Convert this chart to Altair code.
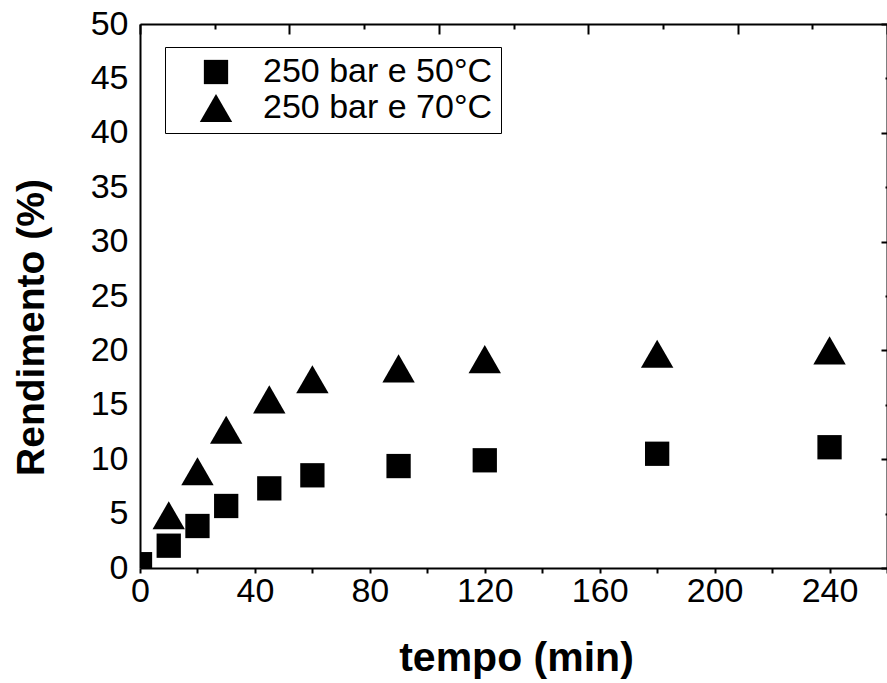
import altair as alt
import pandas as pd

series_names = ["250 bar e 50°C", "250 bar e 70°C"]
t_50 = [0, 10, 20, 30, 45, 60, 90, 120, 180, 240]
y_50 = [0.35, 2.05, 3.86, 5.7, 7.32, 8.52, 9.37, 9.9, 10.5, 11.1]
t_70 = [10, 20, 30, 45, 60, 90, 120, 180, 240]
y_70 = [4.84, 8.9, 12.7, 15.5, 17.35, 18.35, 19.2, 19.7, 20.0]
x_ticks = list(range(0, 261, 20))
y_ticks = list(range(0, 51, 5))
top_ticks = list(range(0, 11))

df = pd.DataFrame({
    "tempo": t_50 + t_70,
    "rend": y_50 + y_70,
    "serie": [series_names[0]] * len(t_50) + [series_names[1]] * len(t_70),
})
dummy = pd.DataFrame({"u": [0]})

FONT = "Liberation Sans"
W, H = 747, 544

legend = alt.Legend(
    title=None, orient="none", legendX=25, legendY=23,
    strokeColor="black", fillColor="white", padding=8,
    labelFont=FONT, labelFontSize=34, labelColor="black", labelLimit=0,
    symbolFillColor="black", symbolStrokeWidth=0, symbolOffset=26,
    labelOffset=30, rowPadding=2,
)

points = alt.Chart(df).mark_point(
    filled=True, color="black", opacity=1, strokeWidth=0, clip=True
).encode(
    x=alt.X("tempo:Q", scale=alt.Scale(domain=[0, 260], nice=False, zero=False),
            axis=alt.Axis(values=x_ticks,
                          labelExpr="datum.value % 40 === 0 ? datum.label : ''",
                          tickSize=5, tickWidth=2, tickColor="black",
                          domainColor="black", domainWidth=2,
                          labelFont=FONT, labelFontSize=34, labelColor="black",
                          labelPadding=1, labelFlush=False, grid=False,
                          title="tempo (min)", titleFont=FONT, titleFontSize=41,
                          titleFontWeight="bold", titleColor="black",
                          titleX=376, titleY=102, titleBaseline="alphabetic",
                          titleAlign="center")),
    y=alt.Y("rend:Q", scale=alt.Scale(domain=[0, 50], nice=False),
            axis=alt.Axis(values=y_ticks, ticks=False,
                          domainColor="black", domainWidth=2,
                          labelFont=FONT, labelFontSize=34, labelColor="black",
                          labelPadding=12, labelFlush=False, grid=False,
                          title="Rendimento (%)", titleFont=FONT, titleFontSize=39,
                          titleFontWeight="bold", titleColor="black",
                          titleX=-97, titleY=303, titleAngle=270,
                          titleBaseline="alphabetic", titleAlign="center")),
    shape=alt.Shape("serie:N", scale=alt.Scale(domain=series_names, range=["square", "triangle-up"]),
                    legend=legend),
    size=alt.Size("serie:N", scale=alt.Scale(domain=series_names, range=[590, 1050]),
                  legend=legend),
)

top = alt.Chart(dummy).mark_point(opacity=0).encode(
    x=alt.X("u:Q", scale=alt.Scale(domain=[0, 10], nice=False),
            axis=alt.Axis(orient="bottom", offset=-H, values=top_ticks, labels=False,
                          tickSize={"condition": {"test": "datum.value % 2 === 0", "value": 10}, "value": 5},
                          tickWidth=2, tickColor="black", domainColor="black", domainWidth=2,
                          grid=False, title=None)),
)

right = alt.Chart(dummy).mark_point(opacity=0).encode(
    y=alt.Y("u:Q", scale=alt.Scale(domain=[0, 50], nice=False),
            axis=alt.Axis(orient="left", offset=-W, values=y_ticks, labels=False,
                          tickSize={"condition": {"test": "datum.value % 10 === 0", "value": 6}, "value": 2},
                          tickWidth=2, tickColor="black", domainColor="black", domainWidth=2,
                          grid=False, title=None)),
)

chart = alt.layer(points, top, right).resolve_scale(
    x="independent", y="independent"
).properties(
    width=W, height=H,
    autosize=alt.AutoSizeParams(type="none"),
    padding={"left": 140, "top": 24, "right": 0, "bottom": 115},
).configure_view(stroke=None).configure(background="white")

chart.save("out.html", embed_options={"renderer": "svg", "actions": False})
